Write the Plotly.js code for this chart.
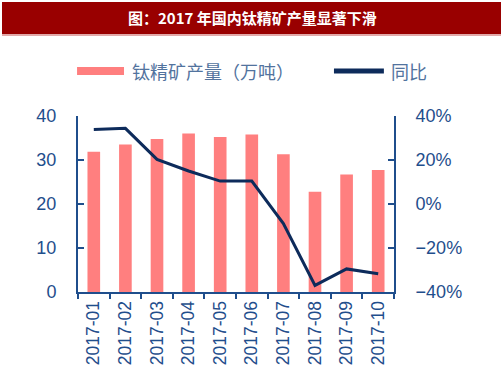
<!DOCTYPE html>
<html>
<head>
<meta charset="utf-8">
<script src="https://cdn.plot.ly/plotly-3.0.1.min.js"></script>
<style>html,body{margin:0;padding:0;background:#fff;}#chart{width:503px;height:378px;}</style>
</head>
<body>
<div id="chart"></div>
<script>
const titleText = "图：2017 年国内钛精矿产量显著下滑";
const months = ["2017-01","2017-02","2017-03","2017-04","2017-05","2017-06","2017-07","2017-08","2017-09","2017-10"];
const output = [31.9, 33.5, 34.8, 36.0, 35.2, 35.8, 31.3, 22.8, 26.7, 27.7];
const yoy = [0.339, 0.344, 0.203, 0.150, 0.104, 0.104, -0.089, -0.370, -0.295, -0.317];
const barName = "钛精矿产量（万吨）";
const lineName = "同比";

const axisColor = "#1f4e8c";
const barColor = "#ff7f7f";
const lineColor = "#0d2b5b";
const tickFont = {family: "Liberation Sans, Arial, sans-serif", size: 18, color: axisColor};

const traces = [
  {type: "bar", x: months, y: output, name: barName, marker: {color: barColor}, width: 0.4, yaxis: "y", showlegend: false},
  {type: "scatter", mode: "lines", x: months, y: yoy, name: lineName, line: {color: lineColor, width: 3}, yaxis: "y2", showlegend: false}
];

const layout = {
  width: 503, height: 378,
  margin: {l: 78, r: 109, t: 116, b: 86},
  paper_bgcolor: "#fff", plot_bgcolor: "#fff",
  xaxis: {type: "category", showline: true, linecolor: axisColor, linewidth: 2, ticks: "outside", tickson: "boundaries", ticklen: 5, tickwidth: 2, tickcolor: axisColor, tickangle: -90, tickfont: {family: "Liberation Sans, Arial, sans-serif", size: 17.5, color: axisColor}, showgrid: false, zeroline: false},
  yaxis: {range: [0, 40], dtick: 10, showline: true, linecolor: axisColor, linewidth: 2, ticks: "inside", ticklen: 6, tickwidth: 2, tickcolor: axisColor, tickfont: tickFont, ticklabelstandoff: 16, showgrid: false, zeroline: false},
  yaxis2: {range: [-0.4, 0.4], dtick: 0.2, tickformat: ".0%", overlaying: "y", side: "right", showline: true, linecolor: axisColor, linewidth: 2, ticks: "inside", ticklen: 6, tickwidth: 2, tickcolor: axisColor, tickfont: tickFont, ticklabelstandoff: 16, showgrid: false, zeroline: false},
  shapes: [
    {type: "rect", xref: "paper", yref: "paper", x0: -0.2405, x1: 1.3386, y0: 1.4659, y1: 1.6477, fillcolor: "#990000", line: {width: 0}, layer: "below"},
    {type: "line", xref: "paper", yref: "paper", x0: -0.2405, x1: 1.3386, y0: 1.4602, y1: 1.4602, line: {color: "#d98c8c", width: 1.5}},
    {type: "rect", xref: "paper", yref: "paper", x0: -0.003, x1: 0.1456, y0: 1.233, y1: 1.278, fillcolor: barColor, line: {width: 0}},
    {type: "line", xref: "paper", yref: "paper", x0: 0.810, x1: 0.968, y0: 1.2557, y1: 1.2557, line: {color: lineColor, width: 5}}
  ],
  annotations: [
    {text: "<b>" + titleText + "</b>", xref: "paper", yref: "paper", x: 0.551, y: 1.557, xanchor: "center", yanchor: "middle", showarrow: false, font: {family: "Noto Sans CJK SC, sans-serif", size: 15, color: "#ffffff"}},
    {text: barName, xref: "paper", yref: "paper", x: 0.1646, y: 1.2557, xanchor: "left", yanchor: "middle", showarrow: false, font: {family: "Noto Sans CJK SC, sans-serif", size: 18, color: "#52739e"}},
    {text: lineName, xref: "paper", yref: "paper", x: 0.984, y: 1.2557, xanchor: "left", yanchor: "middle", showarrow: false, font: {family: "Noto Sans CJK SC, sans-serif", size: 18, color: "#52739e"}}
  ]
};

Plotly.newPlot("chart", traces, layout, {displayModeBar: false, staticPlot: true});
</script>
</body>
</html>
